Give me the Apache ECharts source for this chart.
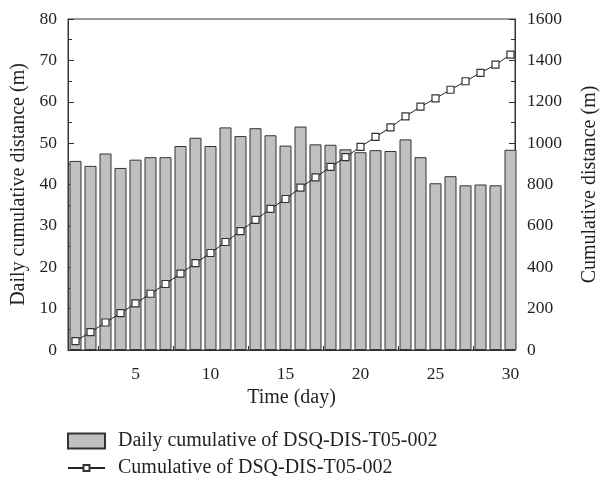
<!DOCTYPE html>
<html><head><meta charset="utf-8">
<script src="https://cdn.jsdelivr.net/npm/echarts@6/dist/echarts.min.js"></script>
<style>html,body{margin:0;padding:0;background:#fff}#c{width:600px;height:481px}</style>
</head><body><div id="c"></div>
<script>
const days = [1,2,3,4,5,6,7,8,9,10,11,12,13,14,15,16,17,18,19,20,21,22,23,24,25,26,27,28,29,30];
const daily = [45.7,44.5,47.5,44.0,46.0,46.6,46.6,49.3,51.3,49.3,53.8,51.7,53.6,51.9,49.4,54.0,49.7,49.6,48.5,47.8,48.3,48.1,50.9,46.6,40.3,42.0,39.8,40.0,39.8,48.4];
const cumulative = [43,86,133,178,225,272,319,369,420,469,522,575,629,682,730,785,834,885,932,982,1030,1076,1129,1176,1216,1258,1299,1340,1379,1428];
const xMajor = [5,10,15,20,25,30];
const xMinor = [2.5,7.5,12.5,17.5,22.5,27.5];
const font = 'Liberation Serif';
const txt = '#231f20';
const barName = 'Daily cumulative of DSQ-DIS-T05-002';
const lineName = 'Cumulative of DSQ-DIS-T05-002';
const chart = echarts.init(document.getElementById('c'));
const axLine = {show:true, lineStyle:{color:'#333', width:1}};
const legendText = {fontFamily:font, fontSize:20, color:txt, padding:[0,0,0,8]};
const titleStyle = {fontFamily:font, fontSize:20, color:txt};
const tickStyle = {fontFamily:font, fontSize:17.5, color:txt};
chart.setOption({
  animation:false,
  grid:{left:68, right:85, top:19, bottom:131, show:true, borderColor:'#333', borderWidth:1,
        containLabel:false, outerBoundsMode:'none'},
  xAxis:[
    {type:'value', min:0.5, max:30.3, position:'bottom',
     name:'Time (day)', nameLocation:'middle', nameGap:37, nameTextStyle:titleStyle,
     axisLine:axLine, splitLine:{show:false},
     axisTick:{show:true, inside:true, length:6, customValues:xMajor, lineStyle:{color:'#333'}},
     axisLabel:Object.assign({customValues:xMajor, margin:15}, tickStyle)},
    {type:'value', min:0.5, max:30.3, position:'bottom',
     axisLine:{show:false}, splitLine:{show:false},
     axisTick:{show:true, inside:true, length:4, customValues:xMinor, lineStyle:{color:'#333'}},
     axisLabel:{show:false}}
  ],
  yAxis:[
    {type:'value', min:0, max:80, interval:10, position:'left',
     name:'Daily cumulative distance (m)', nameLocation:'middle', nameGap:37, nameRotate:90,
     nameTextStyle:titleStyle,
     axisLine:axLine, splitLine:{show:false},
     axisTick:{show:true, inside:true, length:6, lineStyle:{color:'#333'}},
     minorTick:{show:true, splitNumber:2, length:4, lineStyle:{color:'#333'}},
     axisLabel:Object.assign({margin:11, formatter:v=>String(v)}, tickStyle)},
    {type:'value', min:0, max:1600, interval:200, position:'right',
     name:'Cumulative distance (m)', nameLocation:'middle', nameGap:65, nameRotate:90,
     nameTextStyle:titleStyle,
     axisLine:axLine, splitLine:{show:false},
     axisTick:{show:true, inside:true, length:6, lineStyle:{color:'#333'}},
     minorTick:{show:true, splitNumber:2, length:4, lineStyle:{color:'#333'}},
     axisLabel:Object.assign({margin:12, formatter:v=>String(v)}, tickStyle)}
  ],
  legend:[
    {left:67, top:431, padding:0, itemWidth:37, itemHeight:15, icon:'rect', textStyle:legendText, data:[barName]},
    {left:67, top:458, padding:0, itemWidth:37, itemHeight:7.5, textStyle:legendText, data:[lineName]}
  ],
  series:[
    {name:barName, type:'bar', xAxisIndex:0, yAxisIndex:0,
     barWidth:12, data:days.map((d,i)=>[d,daily[i]]),
     itemStyle:{color:'#c0c0c0', borderColor:'#333', borderWidth:1}},
    {name:lineName, type:'line', xAxisIndex:0, yAxisIndex:1,
     data:days.map((d,i)=>[d,cumulative[i]]),
     symbol:'rect', symbolSize:7,
     lineStyle:{color:'#222', width:1},
     itemStyle:{color:'#fff', borderColor:'#333', borderWidth:1.2}}
  ]
});
</script></body></html>
